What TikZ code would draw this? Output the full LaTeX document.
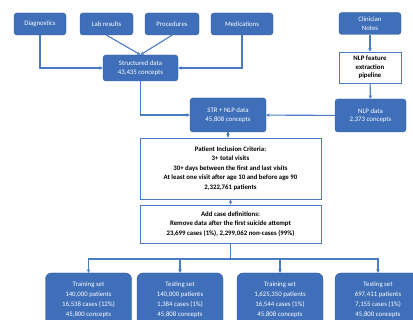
\documentclass[tikz,border=0pt]{standalone}
\usepackage{fontspec}
\setmainfont{Carlito}
\usetikzlibrary{arrows.meta}
\definecolor{boxblue}{HTML}{3E6FB8}
\definecolor{boxedge}{HTML}{2F5A9A}
\definecolor{linkblue}{HTML}{4A7CC6}
\tikzset{
  bluebox/.style={draw=boxedge,fill=boxblue,text=white,rounded corners=3pt,align=center,inner sep=1pt,font=\fontsize{6.8}{8.6}\selectfont},
  setbox/.style={bluebox,rounded corners=6pt,minimum width=86pt,minimum height=54pt,font=\fontsize{6.8}{10}\selectfont},
  whitebox/.style={draw=linkblue,line width=0.9pt,fill=white,text=black,align=center,inner sep=1pt,font=\fontsize{6.8}{9.6}\selectfont\bfseries},
  link/.style={draw=linkblue,line width=1.1pt,-{Stealth[length=3.5pt,width=3.5pt]}}
}
\begin{document}
\begin{tikzpicture}[x=1pt,y=-1pt]
\clip (0,0) rectangle (413,320);
\fill[white] (0,0) rectangle (413,320);
% sources
\node[bluebox,minimum width=52pt,minimum height=22pt] (diag) at (40,24) {Diagnostics};
\node[bluebox,minimum width=53pt,minimum height=22pt] (lab) at (106.5,24) {Lab results};
\node[bluebox,minimum width=54pt,minimum height=22pt] (proc) at (172,24) {Procedures};
\node[bluebox,minimum width=62pt,minimum height=22pt] (med) at (242,24) {Medications};
\node[bluebox,minimum width=62pt,minimum height=22pt] (notes) at (370,23.5) {Clinician\\Notes};
\node[whitebox,minimum width=62pt,minimum height=31pt,font=\fontsize{6.8}{8.6}\selectfont\bfseries] (pipe) at (370,67.5) {NLP feature\\extraction\\pipeline};
% merged data
\node[bluebox,minimum width=75pt,minimum height=26pt] (struct) at (140.5,68) {Structured data\\43,435 concepts};
\node[bluebox,minimum width=76pt,minimum height=34pt] (strnlp) at (228,115) {STR + NLP data\\45,808 concepts};
\node[bluebox,minimum width=71pt,minimum height=33pt] (nlpdata) at (370.5,115.5) {NLP data\\2,373 concepts};
% cohort
\node[whitebox,minimum width=181pt,minimum height=61pt] (incl) at (230.5,168.5) {Patient Inclusion Criteria:\\3+ total visits\\30+ days between the first and last visits\\At least one visit after age 10 and before age 90\\2,322,761 patients};
\node[whitebox,minimum width=181pt,minimum height=38pt] (cases) at (230.5,224) {Add case definitions:\\Remove data after the first suicide attempt\\23,699 cases (1\%), 2,299,062 non-cases (99\%)};
% splits
\node[setbox] (train1) at (88.5,300) {Training set\\140,000 patients\\16,538 cases (12\%)\\45,800 concepts};
\node[setbox] (test1) at (180,300) {Testing set\\140,000 patients\\1,384 cases (1\%)\\45,808 concepts};
\node[setbox] (train2) at (280,300) {Training set\\1,625,350 patients\\16,544 cases (1\%)\\45,808 concepts};
\node[setbox] (test2) at (378,300) {Testing set\\697,411 patients\\7,155 cases (1\%)\\45,800 concepts};
\coordinate (fork) at (230.5,259);
% connectors
\draw[link] (diag) |- (struct);
\draw[link] (med) |- (struct);
\draw[link] (lab.south) -- (struct.north);
\draw[link] (proc.south) -- (struct.north);
\draw[link] (notes) -- (pipe);
\draw[link] (pipe) -- (nlpdata);
\draw[link] (struct) |- (strnlp);
\draw[link] (nlpdata) -- (strnlp);
\draw[link] (strnlp.south) -- (strnlp.south |- incl.north);
\draw[link] (incl) -- (cases);
\foreach \b in {train1,test1,train2,test2}
  \draw[link] (cases.south) -- (fork) -| (\b.north);
\end{tikzpicture}
\end{document}
